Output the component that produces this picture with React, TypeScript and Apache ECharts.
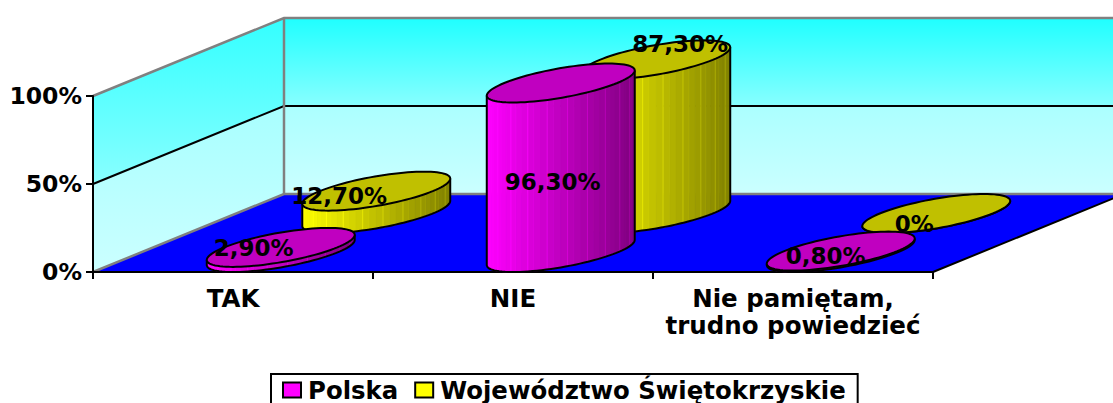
import React, { useEffect, useRef } from "react";
import * as echarts from "echarts";

const categories = ["TAK", "NIE", "Nie pamiętam,\ntrudno powiedzieć"];
const polska = [2.9, 96.3, 0.8];
const swietokrzyskie = [12.7, 87.3, 0];
const valueTicks = [0, 50, 100];

const FONT = '"DejaVu Sans"';
const DEPTH_X = 191;
const DEPTH_Y = 78;
const WIDTH_RATIO = 0.2018;
const RADIUS_DEPTH = 0.25;
const FACETS = 34;
const labelShift = {
  Polska: [[-27, 1], [-8, 99], [-15, 5]],
  "Województwo Świętokrzyskie": [[-37, 5], [24, -16], [-22, 10]],
};

const lerp = (a: number[], b: number[], f: number) =>
  `rgb(${a.map((v, i) => Math.round(v + (b[i] - v) * f)).join(",")})`;

const fmt = (v: number) => (v === 0 ? "0%" : v.toFixed(2).replace(".", ",") + "%");

function cylinder(
  name: string,
  row: number,
  bright: number[],
  dark: number[],
  capColor: string,
) {
  return (params: any, api: any) => {
    const i = api.value(0);
    const v = api.value(1);
    const base = api.coord([i, 0]);
    const top = api.coord([i, v]);
    const dx = DEPTH_X * row;
    const dy = -DEPTH_Y * row;
    const a = api.size([1, 0])[0] * WIDTH_RATIO;
    const bx = DEPTH_X * RADIUS_DEPTH;
    const by = DEPTH_Y * RADIUS_DEPTH;
    const phi = Math.atan2(bx, a);
    const cx = base[0] + dx;
    const pt = (t: number, cy: number) => [
      cx + a * Math.cos(t) + bx * Math.sin(t),
      cy + by * -Math.sin(t),
    ];
    const baseY = base[1] + dy;
    const topY = top[1] + dy;
    const children: any[] = [];
    const T = (s: number) => phi + Math.PI + s * Math.PI;
    for (let k = 0; k < FACETS; k++) {
      const s0 = k / FACETS;
      const s1 = (k + 1) / FACETS;
      const p0 = pt(T(s0), baseY);
      const p1 = pt(T(s1), baseY);
      const p2 = pt(T(s1), topY);
      const p3 = pt(T(s0), topY);
      const f = (((p0[0] + p1[0]) / 2) - (cx - Math.hypot(a, bx))) / (2 * Math.hypot(a, bx));
      const c = lerp(bright, dark, f);
      children.push({
        type: "polygon",
        shape: { points: [p0, p1, p2, p3] },
        style: { fill: c, stroke: k % 3 === 0 ? lerp(bright, dark, Math.max(0, f - 0.25)) : c, lineWidth: 1 },
      });
    }
    const front: number[][] = [];
    for (let k = 0; k <= 48; k++) front.push(pt(T(k / 48), baseY));
    const outline = [pt(T(0), topY), ...front, pt(T(1), topY)];
    children.push({
      type: "polyline",
      shape: { points: outline },
      style: { fill: "none", stroke: "#000", lineWidth: 2 },
    });
    const cap: number[][] = [];
    for (let k = 0; k < 96; k++) cap.push(pt((k / 96) * Math.PI * 2, topY));
    children.push({
      type: "polygon",
      shape: { points: cap },
      style: { fill: capColor, stroke: "#000", lineWidth: 2 },
    });
    const shift = (labelShift as any)[name][i];
    children.push({
      type: "text",
      z2: 50,
      x: cx + shift[0],
      y: topY + shift[1],
      style: {
        text: fmt(v),
        font: `bold 23px ${FONT}`,
        fill: "#000",
        align: "center",
        verticalAlign: "middle",
      },
    });
    return { type: "group", children };
  };
}

function walls(params: any, api: any) {
  const box = params.coordSys;
  const x0 = box.x;
  const x1 = box.x + box.width;
  const y0 = api.coord([0, valueTicks[0]])[1];
  const y1 = api.coord([0, valueTicks[1]])[1];
  const y2 = api.coord([0, valueTicks[2]])[1];
  const grad = (c0: string, c1: string) => ({
    type: "linear",
    x: 0,
    y: 0,
    x2: 0,
    y2: 1,
    colorStops: [
      { offset: 0, color: c0 },
      { offset: 1, color: c1 },
    ],
  });
  const upper = grad("#1FFFFF", "#88FFFF");
  const lower = grad("#ABFFFF", "#CBFFFF");
  const leftUpper = grad("#33FFFF", "#88FFFF");
  const leftLower = grad("#A8FFFF", "#CBFFFF");
  const bx = x0 + DEPTH_X;
  const bx1 = x1 + DEPTH_X;
  const b = (y: number) => y - DEPTH_Y;
  return {
    type: "group",
    children: [
      { type: "polygon", shape: { points: [[bx, b(y2)], [bx1, b(y2)], [bx1, b(y1)], [bx, b(y1)]] }, style: { fill: upper } },
      { type: "polygon", shape: { points: [[bx, b(y1)], [bx1, b(y1)], [bx1, b(y0)], [bx, b(y0)]] }, style: { fill: lower } },
      { type: "polygon", shape: { points: [[x0, y2], [bx, b(y2)], [bx, b(y1)], [x0, y1]] }, style: { fill: leftUpper } },
      { type: "polygon", shape: { points: [[x0, y1], [bx, b(y1)], [bx, b(y0)], [x0, y0]] }, style: { fill: leftLower } },
      { type: "polygon", shape: { points: [[x0, y0], [x1, y0], [bx1, b(y0)], [bx, b(y0)]] }, style: { fill: "#0000FF" } },
      { type: "polyline", shape: { points: [[x0, y1], [bx, b(y1)], [bx1, b(y1)]] }, style: { fill: "none", stroke: "#000", lineWidth: 2 } },
      { type: "polyline", shape: { points: [[x0, y2], [bx, b(y2)], [bx1, b(y2)]] }, style: { fill: "none", stroke: "#808080", lineWidth: 2.5 } },
      { type: "polyline", shape: { points: [[x0, y0], [bx, b(y0)], [bx1, b(y0)]] }, style: { fill: "none", stroke: "#808080", lineWidth: 2.5 } },
      { type: "line", shape: { x1: bx, y1: b(y2), x2: bx, y2: b(y0) }, style: { stroke: "#808080", lineWidth: 2.5 } },
      { type: "line", shape: { x1: x1, y1: y0, x2: bx1, y2: b(y0) }, style: { stroke: "#000", lineWidth: 2 } },
    ],
  };
}

export default function App() {
  const ref = useRef<HTMLDivElement>(null);
  useEffect(() => {
    document.body.style.margin = "0";
    const chart = echarts.init(ref.current!, undefined, { renderer: "svg" });
    chart.setOption({
      animation: false,
      backgroundColor: "#fff",
      textStyle: { fontFamily: FONT },
      grid: { left: 93, width: 840, top: 96, height: 176 },
      xAxis: {
        type: "category",
        data: categories,
        z: 5,
        axisLine: { lineStyle: { color: "#000", width: 2 } },
        axisTick: { show: true, length: 7, lineStyle: { color: "#000", width: 2 } },
        axisLabel: {
          color: "#000",
          fontFamily: FONT,
          fontWeight: "bold",
          fontSize: 24.5,
          lineHeight: 27,
          margin: 13,
          interval: 0,
        },
      },
      yAxis: {
        type: "value",
        min: 0,
        max: 100,
        interval: 50,
        z: 5,
        axisLine: { show: true, lineStyle: { color: "#000", width: 2 } },
        axisTick: { show: true, length: 7, lineStyle: { color: "#000", width: 2 } },
        splitLine: { show: false },
        axisLabel: {
          color: "#000",
          fontFamily: FONT,
          fontWeight: "bold",
          fontSize: 23.5,
          margin: 11,
          formatter: "{value}%",
        },
      },
      legend: {
        data: ["Polska", "Województwo Świętokrzyskie"],
        left: 271,
        top: 374,
        orient: "horizontal",
        selectedMode: false,
        icon: "rect",
        itemWidth: 18,
        itemHeight: 15,
        itemGap: 16,
        padding: [4, 12, 10, 11],
        borderColor: "#000",
        borderWidth: 2,
        textStyle: { color: "#000", fontFamily: FONT, fontWeight: "bold", fontSize: 24.4, lineHeight: 22, padding: [0, 0, 0, 2] },
      },
      series: [
        {
          type: "custom",
          name: "walls",
          z: 1,
          silent: true,
          clip: false,
          data: [[0, 0]],
          renderItem: walls,
        },
        {
          type: "custom",
          name: "Województwo Świętokrzyskie",
          z: 6,
          clip: false,
          itemStyle: { color: "#FFFF00", borderColor: "#000", borderWidth: 2 },
          encode: { x: 0, y: 1 },
          data: swietokrzyskie.map((v, i) => [i, v]),
          renderItem: cylinder("Województwo Świętokrzyskie", 0.75, [255, 255, 0], [128, 128, 0], "#C0C000"),
        },
        {
          type: "custom",
          name: "Polska",
          z: 7,
          clip: false,
          itemStyle: { color: "#FF00FF", borderColor: "#000", borderWidth: 2 },
          encode: { x: 0, y: 1 },
          data: polska.map((v, i) => [i, v]),
          renderItem: cylinder("Polska", 0.25, [255, 0, 255], [128, 0, 128], "#C000C0"),
        },
      ],
    });
    return () => chart.dispose();
  }, []);
  return <div ref={ref} style={{ width: 1113, height: 403 }} />;
}
